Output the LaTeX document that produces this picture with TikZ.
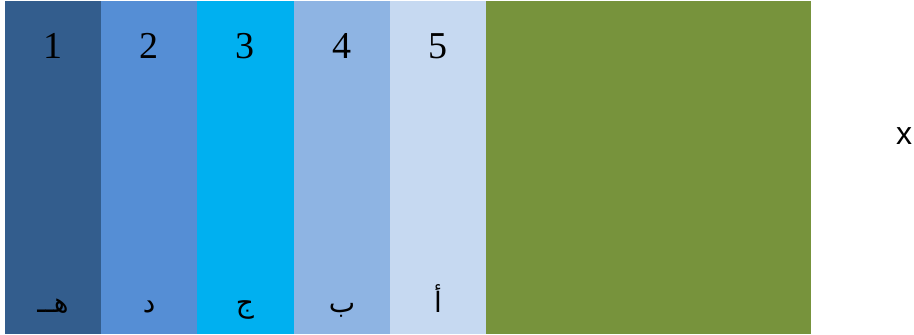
\documentclass[tikz,border=0pt]{standalone}
\usepackage{fontspec}
\setmainfont{Liberation Serif}
\newfontfamily\arabicfont[Script=Arabic]{DejaVu Sans}
\newfontfamily\xsans{Liberation Sans}
\TeXXeTstate=1
\definecolor{c1}{HTML}{335D8D}
\definecolor{c2}{HTML}{558ED5}
\definecolor{c3}{HTML}{00B0F0}
\definecolor{c4}{HTML}{8EB4E3}
\definecolor{c5}{HTML}{C6D9F1}
\definecolor{cg}{HTML}{77933C}
\begin{document}
\begin{tikzpicture}[x=1pt,y=-1pt,
  num/.style={anchor=base,font=\fontsize{38}{42}\selectfont,text=black,inner sep=0pt},
  arl/.style={anchor=base,font=\arabicfont\fontsize{28}{32}\selectfont,text=black,inner sep=0pt}]
\useasboundingbox (0,0) rectangle (914,335);
\fill[c1] (5,1) rectangle (101,334);
\fill[c2] (101,1) rectangle (197,334);
\fill[c3] (197,1) rectangle (294,334);
\fill[c4] (294,1) rectangle (390,334);
\fill[c5] (390,1) rectangle (486,334);
\fill[cg] (486,1) rectangle (811,334);
\node[num] (n1) at (53,58) {1};
\node[num] (n2) at (149,58) {2};
\node[num] (n3) at (245,58) {3};
\node[num] (n4) at (342,58) {4};
\node[num] (n5) at (438,58) {5};
\node[arl] (a1) at (53,312) {\beginR هــ\endR};
\node[arl] (a2) at (149,312) {\beginR د\endR};
\node[arl] (a3) at (245,312) {\beginR ج\endR};
\node[arl] (a4) at (342,312) {\beginR ب\endR};
\node[arl] (a5) at (438,312) {\beginR أ\endR};
\node[anchor=base,inner sep=0pt,font=\xsans\fontsize{32}{36}\selectfont] (x) at (904,144) {x};
\end{tikzpicture}
\end{document}
